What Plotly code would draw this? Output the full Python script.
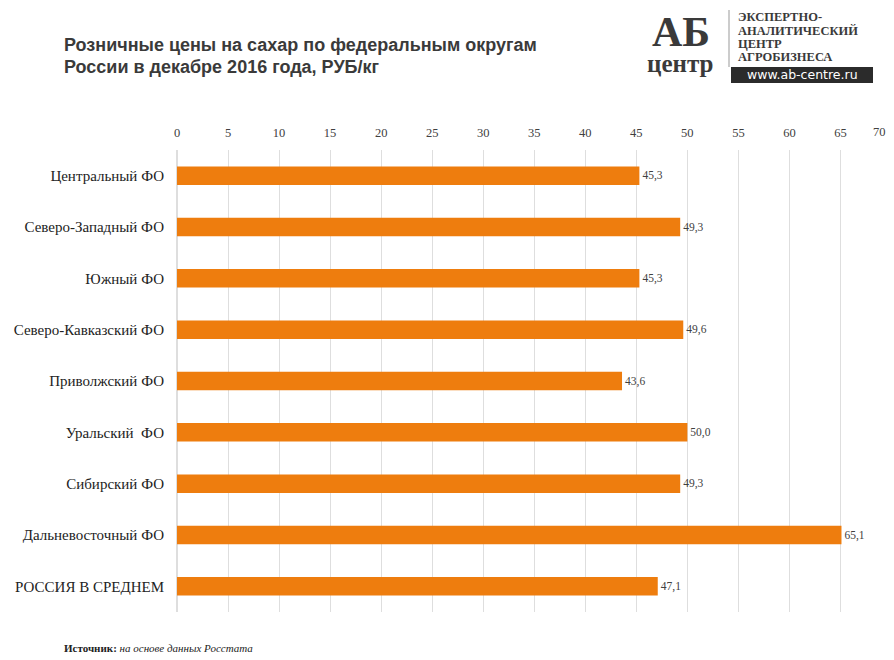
import plotly.graph_objects as go

categories = ["Центральный ФО", "Северо-Западный ФО", "Южный ФО", "Северо-Кавказский ФО",
              "Приволжский ФО", "Уральский  ФО", "Сибирский ФО", "Дальневосточный ФО",
              "РОССИЯ В СРЕДНЕМ"]
values = [45.3, 49.3, 45.3, 49.6, 43.6, 50.0, 49.3, 65.1, 47.1]
tick_vals = list(range(0, 71, 5))
labels = [f"{v:.1f}".replace(".", ",") for v in values]

# page offset of 8px (body margin); plot area: page x 177..892, y 150..612
L, T, PW, PH = 177, 150, 715, 462


def px(x):
    return (x - L) / PW


def py(y):
    return (T + PH - y) / PH


fig = go.Figure(go.Bar(
    x=values, y=categories, orientation="h",
    marker=dict(color="#EE7D0E", line=dict(width=0)),
    width=0.36,
    text=labels, textposition="outside",
    textfont=dict(family="Liberation Serif", size=11.5, color="#404040"),
    cliponaxis=False,
))

fig.update_layout(
    width=886, height=652,
    paper_bgcolor="white", plot_bgcolor="white",
    margin=dict(l=169, r=2, t=142, b=48),
    showlegend=False,
    xaxis=dict(range=[0, 70.05], side="top", tickvals=tick_vals,
               showgrid=True, gridcolor="#dedede", gridwidth=1,
               zeroline=True, zerolinecolor="#dedede", showline=False,
               tickfont=dict(family="Liberation Serif", size=12.5, color="#404040"),
               ticklabelstandoff=10),
    yaxis=dict(autorange="reversed", showgrid=False, showline=False,
               tickfont=dict(family="Liberation Serif", size=15, color="#222222"),
               ticklabelstandoff=12),
    font=dict(family="Liberation Serif"),
)

# last tick label (sits at the very edge of the figure)
fig.add_annotation(xref="x", yref="paper", x=tick_vals[-1], y=py(132), xanchor="right", yanchor="middle",
                   xshift=-3, showarrow=False, text=str(tick_vals[-1]),
                   font=dict(family="Liberation Serif", size=12.5, color="#404040"))

# Title
fig.add_annotation(xref="paper", yref="paper", x=px(62), y=py(45), xanchor="left", yanchor="middle",
                   showarrow=False, align="left",
                   text="<b>Розничные цены на сахар по федеральным округам</b>",
                   font=dict(family="Liberation Sans", size=18, color="#3a3a3a"))
fig.add_annotation(xref="paper", yref="paper", x=px(62), y=py(67), xanchor="left", yanchor="middle",
                   showarrow=False, align="left",
                   text="<b>России в декабре 2016 года, РУБ/кг</b>",
                   font=dict(family="Liberation Sans", size=18, color="#3a3a3a"))

# Logo
fig.add_annotation(xref="paper", yref="paper", x=px(681), y=py(32), xanchor="center", yanchor="middle",
                   showarrow=False, text="<b>АБ</b>",
                   font=dict(family="Liberation Serif", size=42, color="#3a3a3a"))
fig.add_annotation(xref="paper", yref="paper", x=px(680), y=py(64), xanchor="center", yanchor="middle",
                   showarrow=False, text="<b>центр</b>",
                   font=dict(family="Liberation Serif", size=25, color="#3a3a3a"))
logo_lines = ["ЭКСПЕРТНО-", "АНАЛИТИЧЕСКИЙ", "ЦЕНТР", "АГРОБИЗНЕСА"]
for i, line in enumerate(logo_lines):
    fig.add_annotation(xref="paper", yref="paper", x=px(736), y=py(17 + 13.5 * i),
                       xanchor="left", yanchor="middle", showarrow=False,
                       text=f"<b>{line}</b>",
                       font=dict(family="Liberation Serif", size=12.5, color="#3a3a3a"))
fig.add_shape(type="rect", xref="paper", yref="paper", x0=px(731), x1=px(873),
              y0=py(83), y1=py(67), fillcolor="#2b2b2b", line=dict(width=0))
fig.add_shape(type="line", xref="paper", yref="paper", x0=px(729), x1=px(729),
              y0=py(67), y1=py(10), line=dict(color="#999999", width=1))
fig.add_annotation(xref="paper", yref="paper", x=px(802), y=py(75), xanchor="center", yanchor="middle",
                   showarrow=False, text="www.ab-centre.ru",
                   font=dict(family="DejaVu Sans", size=12.5, color="white"))

# Source
fig.add_annotation(xref="paper", yref="paper", x=px(62), y=py(648), xanchor="left", yanchor="middle",
                   showarrow=False, align="left",
                   text="<b>Источник:</b> <i>на основе данных Росстата</i>",
                   font=dict(family="Liberation Serif", size=11, color="#222222"))

fig.write_html("out.html")
